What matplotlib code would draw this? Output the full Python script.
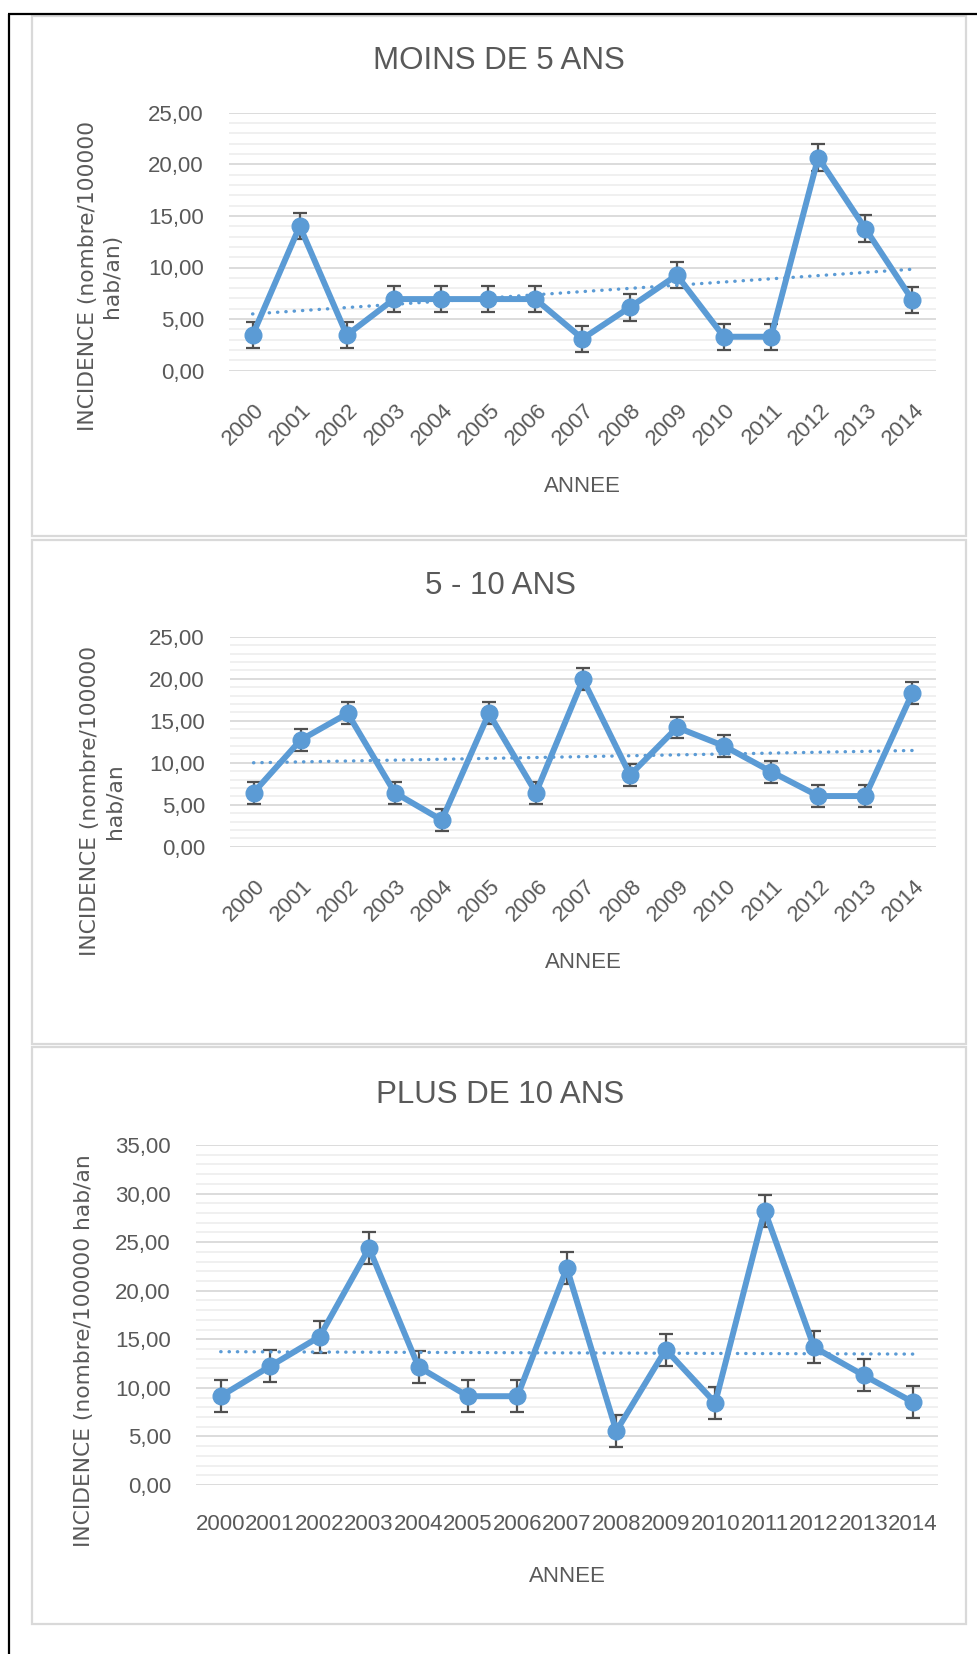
import numpy as np
import matplotlib
matplotlib.use("Agg")
import matplotlib.pyplot as plt
from matplotlib.patches import Rectangle
from matplotlib.transforms import ScaledTranslation

# ---------------- data ----------------
years = ['2000', '2001', '2002', '2003', '2004', '2005', '2006', '2007',
         '2008', '2009', '2010', '2011', '2012', '2013', '2014']
moins_5 = [3.45, 14.00, 3.45, 6.94, 6.94, 6.94, 6.94, 3.10, 6.13, 9.26,
           3.29, 3.29, 20.65, 13.77, 6.84]
cinq_dix = [6.43, 12.70, 15.87, 6.43, 3.17, 15.87, 6.43, 19.92, 8.53, 14.20,
            11.98, 8.93, 6.03, 6.03, 18.33]
plus_10 = [9.14, 12.23, 15.27, 24.38, 12.16, 9.14, 9.14, 22.33, 5.55, 13.94,
           8.46, 28.25, 14.18, 11.30, 8.53]
err_moins_5 = 1.27
err_cinq_dix = 1.30
err_plus_10 = 1.65
titles = ['MOINS DE 5 ANS', '5 - 10 ANS', 'PLUS DE 10 ANS']
ylabels = ['INCIDENCE (nombre/100000\nhab/an)',
           'INCIDENCE (nombre/100000\nhab/an',
           'INCIDENCE (nombre/100000 hab/an']
xlabel = 'ANNEE'
ymax = [25, 25, 35]

# ---------------- style ----------------
W, H = 978, 1654
DPI = 100
BLUE = '#5B9BD5'
TXT = '#595959'
ERR = '#505050'
MAJ = '#D9D9D9'
MIN = '#EFEFEF'
TF = 'Liberation Sans'
LF = 'DejaVu Sans'

fig = plt.figure(figsize=(W / DPI, H / DPI), dpi=DPI)
fig.patch.set_facecolor('white')

bg = fig.add_axes([0, 0, 1, 1], zorder=0)
bg.set_xlim(0, W)
bg.set_ylim(H, 0)
bg.axis('off')

# outer black lines
bg.plot([8, W], [14, 14], color='black', lw=1.6, solid_capstyle='butt')
bg.plot([8.5, 8.5], [14, H], color='black', lw=1.6, solid_capstyle='butt')

# chart boxes (x0, y0, x1, y1)
boxes = [(31.5, 15.5, 965.5, 536), (31.5, 539.5, 965.5, 1044), (31.5, 1046.5, 965.5, 1624)]
for (x0, y0, x1, y1) in boxes:
    bg.add_patch(Rectangle((x0, y0), x1 - x0, y1 - y0, fill=False,
                           edgecolor='#D9D9D9', lw=1.6))

# plot areas in pixels (left, right, top, bottom)
areas = [(229, 936, 112.7, 370.7), (230, 936, 636.7, 846.7), (196, 937.7, 1145, 1485)]
title_pos = [(499, 61), (500, 586), (500, 1095)]
xlab_pos = [(582, 487), (583, 963), (567, 1576)]
ylab_pos = [(100, 276), (102, 801), (84.5, 1351)]
series = [moins_5, cinq_dix, plus_10]
errs = [err_moins_5, err_cinq_dix, err_plus_10]
rotated = [True, True, False]

for i in range(3):
    l, r, t, b = areas[i]
    ax = fig.add_axes([l / W, 1 - b / H, (r - l) / W, (b - t) / H], zorder=1)
    ax.set_facecolor('none')
    x = np.arange(len(years))
    y = np.array(series[i])

    ax.set_xlim(-0.5, len(years) - 0.5)
    ax.set_ylim(0, ymax[i])
    for v in np.arange(0, ymax[i] + 0.01, 1):
        if v % 5 == 0:
            ax.axhline(v, color=MAJ, lw=1.3, zorder=1)
        else:
            ax.axhline(v, color=MIN, lw=1.3, zorder=0.9)

    ax.errorbar(x, y, yerr=errs[i], fmt='none', ecolor=ERR, elinewidth=1.6,
                capsize=5, capthick=1.6, zorder=2)
    ax.plot(x, y, color=BLUE, lw=4.3, marker='o', markersize=12,
            markerfacecolor=BLUE, markeredgecolor=BLUE, zorder=3,
            solid_joinstyle='round')
    coef = np.polyfit(x, y, 1)
    ax.plot(x, np.polyval(coef, x), color=BLUE, lw=2.4,
            linestyle=(0, (0.1, 2.4)), dash_capstyle='round', zorder=4)

    for s in ax.spines.values():
        s.set_visible(False)
    yt = np.arange(0, ymax[i] + 0.01, 5)
    ax.set_yticks(yt)
    ax.set_yticklabels([f"{v:.2f}".replace('.', ',') for v in yt],
                       fontfamily=TF, fontsize=16, color=TXT)
    ax.tick_params(axis='y', length=0, pad=18)
    ax.set_xticks(x)
    if rotated[i]:
        ax.set_xticklabels(years, rotation=45, ha='right', fontfamily=TF,
                           fontsize=16, color=TXT)
        ax.tick_params(axis='x', length=0, pad=21)
        off = ScaledTranslation(16 / DPI, 0, fig.dpi_scale_trans)
        for lb in ax.get_xticklabels():
            lb.set_transform(lb.get_transform() + off)
    else:
        ax.set_xticklabels(years, fontfamily=TF, fontsize=16, color=TXT)
        ax.tick_params(axis='x', length=0, pad=21)

    bg.text(*title_pos[i], titles[i], ha='center', va='center',
            fontfamily=TF, fontsize=22.5, color=TXT)
    bg.text(*xlab_pos[i], xlabel, ha='center', va='center',
            fontfamily=TF, fontsize=16, color=TXT)
    bg.text(*ylab_pos[i], ylabels[i], ha='center', va='center', rotation=90,
            fontfamily=LF, fontsize=15.7, color=TXT, linespacing=1.3,
            multialignment='center')

fig.savefig('out.png', dpi=DPI, facecolor='white')
